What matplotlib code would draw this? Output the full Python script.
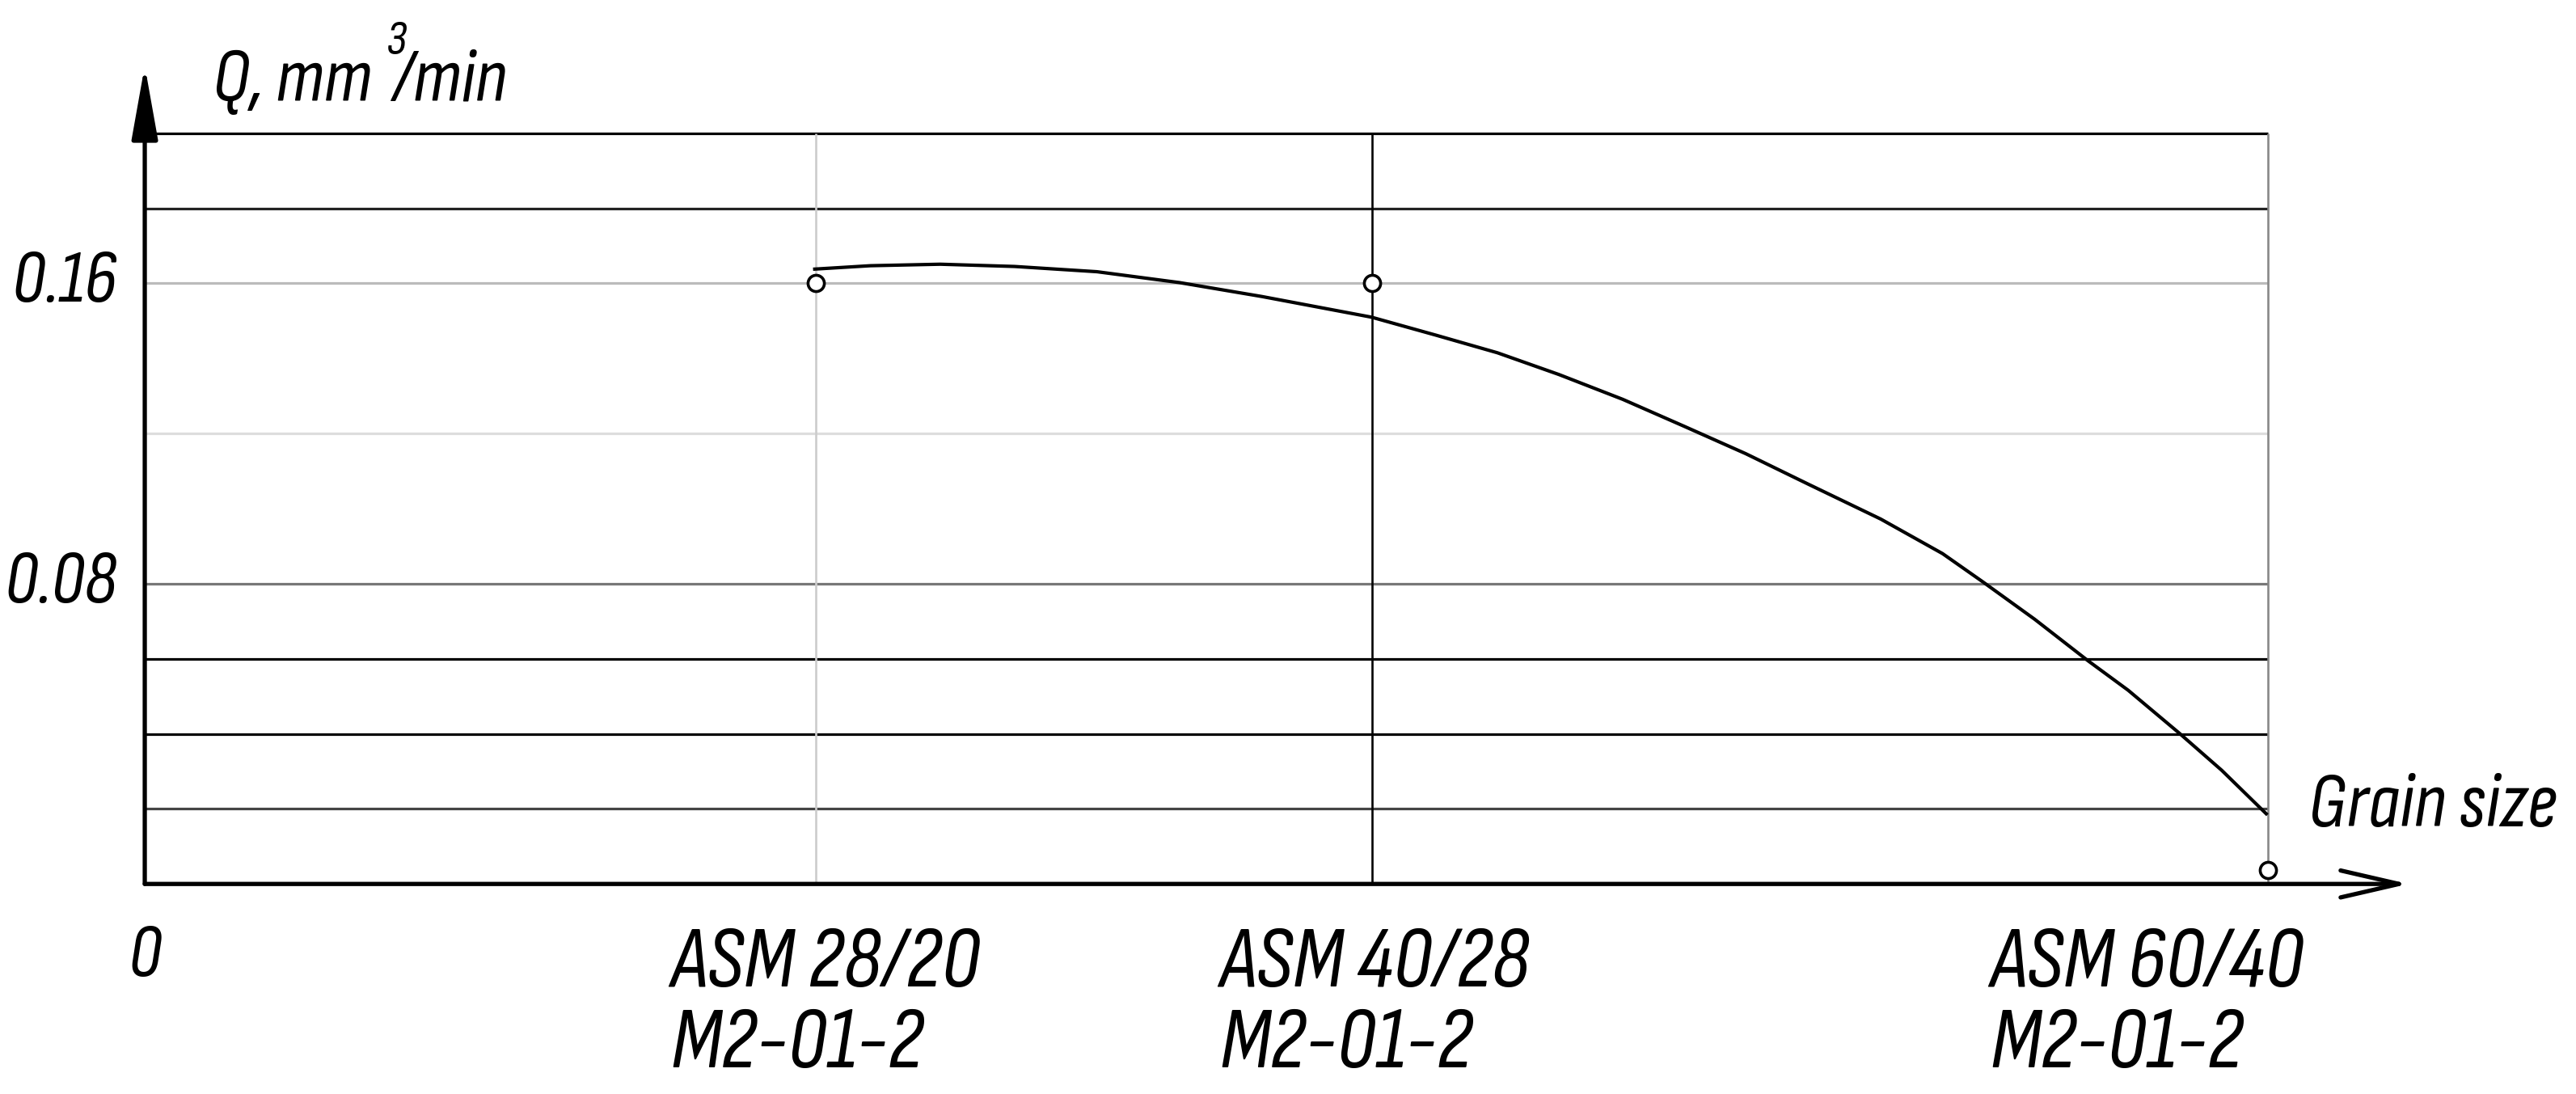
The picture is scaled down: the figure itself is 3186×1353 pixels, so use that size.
import matplotlib.pyplot as plt
import numpy as np

# values
categories = ['ASM 28/20\nM2-01-2', 'ASM 40/28\nM2-01-2', 'ASM 60/40\nM2-01-2']
cat_x = [0.316, 0.578, 1.0]            # position of each grain size on the x axis
label_x = [0.2475, 0.506, 0.869]       # left edge of each category label
points_q = [0.160, 0.160, 0.0037]      # measured points (open circles)

# smooth trend line, read point by point
curve_x = [0.3155, 0.3417, 0.3746, 0.4096, 0.4484, 0.4873, 0.526, 0.5776, 0.608, 0.637,
           0.666, 0.696, 0.725, 0.754, 0.783, 0.8175, 0.8466, 0.8655, 0.890, 0.915,
           0.934, 0.958, 0.978, 0.999]
curve_q = [0.1638, 0.1647, 0.1651, 0.1645, 0.1631, 0.1602, 0.1565, 0.1510, 0.1462, 0.1415,
           0.1357, 0.1291, 0.1219, 0.1146, 0.1066, 0.0972, 0.0880, 0.0805, 0.0705, 0.0595,
           0.0516, 0.0402, 0.0303, 0.0187]

yticks = [0.08, 0.16]
ytick_labels = ['0.08', '0.16']
grid_levels = [0.02, 0.04, 0.06, 0.08, 0.12, 0.16, 0.18, 0.20]
grid_colors = ['#444444', '#000000', '#000000', '#777777', '#dddddd', '#bbbbbb', '#222222', '#000000']
vline_colors = ['#cccccc', '#000000', '#888888']

FONT = ['Sofia Sans Condensed', 'DejaVu Sans']
plt.rcParams['font.family'] = FONT
plt.rcParams['font.style'] = 'italic'

fig = plt.figure(figsize=(31.86, 13.53), dpi=100)
ax = fig.add_axes([0.0562, 0.192, 0.8763, 0.748])
ax.set_xlim(0, 1.063)
ax.set_ylim(0, 0.218)
ax.axis('off')

# horizontal grid
for lvl, c in zip(grid_levels, grid_colors):
    ax.plot([0, 1.0], [lvl, lvl], color=c, lw=2.3, solid_capstyle='butt', zorder=1)

# vertical lines at each grain size
for xv, c in zip(cat_x, vline_colors):
    ax.plot([xv, xv], [0, 0.20], color=c, lw=1.9, solid_capstyle='butt', zorder=1)

# axes with arrows
ax.annotate('', xy=(0, 0.218), xytext=(0, 0), xycoords='data',
            arrowprops=dict(arrowstyle='-|>,head_length=1.4,head_width=0.25',
                            lw=3.8, color='black', mutation_scale=40,
                            shrinkA=0, shrinkB=0), annotation_clip=False, zorder=3)
ax.annotate('', xy=(1.066, 0), xytext=(0, 0), xycoords='data',
            arrowprops=dict(arrowstyle='->,head_length=1.3,head_width=0.3',
                            lw=3.8, color='black', mutation_scale=40,
                            shrinkA=0, shrinkB=0), annotation_clip=False, zorder=3)

# trend line and measured points
ax.plot(curve_x, curve_q, color='black', lw=3.0, solid_joinstyle='round', zorder=4)
ax.plot(cat_x, points_q, 'o', ms=14.5, mfc='white', mec='black', mew=2.6, zorder=5, clip_on=False)

# tick labels
for yv, lab in zip(yticks, ytick_labels):
    ax.text(-0.013, yv, lab, ha='right', va='center', fontsize=67, clip_on=False)
ax.text(0.0, -0.0195, '0', ha='center', va='center', fontsize=67, clip_on=False)

# category labels
for lx, lab in zip(label_x, categories):
    ax.text(lx, -0.0322, lab, ha='left', va='center', fontsize=78, linespacing=1.05,
            clip_on=False)

# axis titles
ax.text(1.019, 0.0205, 'Grain size', ha='left', va='center', fontsize=69, clip_on=False)
ax.text(0.032, 0.2086, 'Q, mm', ha='left', va='baseline', fontsize=68, clip_on=False)
ax.text(0.1134, 0.2210, '3', ha='left', va='baseline', fontsize=44, clip_on=False)
ax.text(0.1165, 0.2086, '/min', ha='left', va='baseline', fontsize=68, clip_on=False)

fig.savefig('out.png', dpi=100)
